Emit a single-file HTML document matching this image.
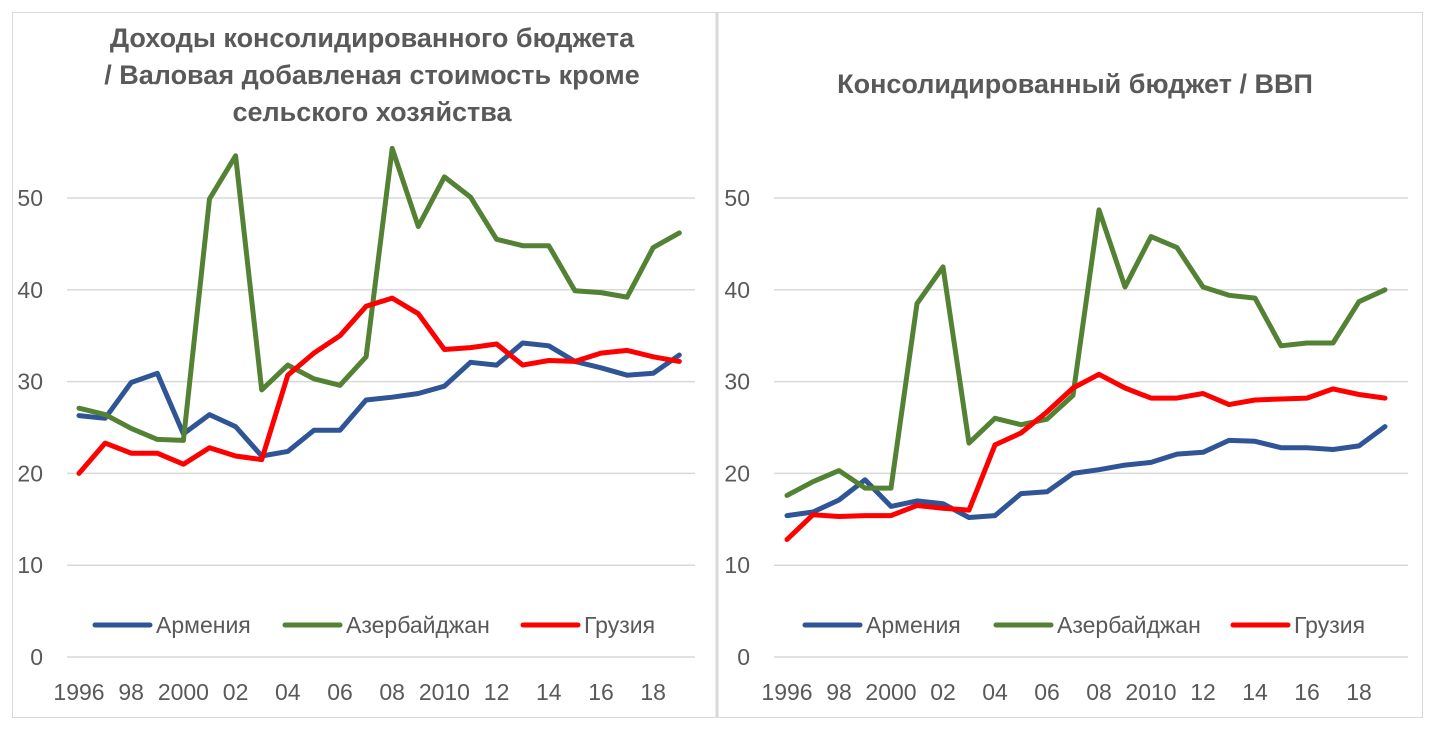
<!DOCTYPE html>
<html><head><meta charset="utf-8"><style>
html,body{margin:0;padding:0;background:#fff;}
svg{display:block;font-family:"Liberation Sans","DejaVu Sans",sans-serif;}
</style></head><body>
<svg id="s" width="1435" height="731" viewBox="0 0 1435 731" xmlns="http://www.w3.org/2000/svg">
<rect x="0" y="0" width="1435" height="731" fill="#fff"/>
<rect x="12.5" y="12.5" width="1410" height="705" fill="none" stroke="#d9d9d9"/>
<line x1="717" y1="12" x2="717" y2="718" stroke="#d9d9d9" stroke-width="3"/>
<g fill="#595959" font-weight="bold" font-size="27" text-anchor="middle">
<text x="372" y="47">Доходы консолидированного бюджета</text>
<text x="372" y="84">/ Валовая добавленая стоимость кроме</text>
<text x="372" y="121">сельского хозяйства</text>
<text x="1075" y="93">Консолидированный бюджет / ВВП</text>
</g>
<g id="g"></g>
</svg>
<script>
var L={a:[26.3,26,29.9,30.9,24.3,26.4,25.1,21.9,22.4,24.7,24.7,28,28.3,28.7,29.5,32.1,31.8,34.2,33.9,32.2,31.5,30.7,30.9,32.9],
z:[27.1,26.4,24.9,23.7,23.6,49.9,54.6,29.1,31.8,30.3,29.6,32.7,55.4,46.9,52.3,50.1,45.5,44.8,44.8,39.9,39.7,39.2,44.6,46.2],
g:[20,23.3,22.2,22.2,21,22.8,21.9,21.5,30.7,33.1,35,38.2,39.1,37.4,33.5,33.7,34.1,31.8,32.3,32.2,33.1,33.4,32.7,32.2]};
var R={a:[15.4,15.8,17.1,19.3,16.4,17,16.7,15.2,15.4,17.8,18,20,20.4,20.9,21.2,22.1,22.3,23.6,23.5,22.8,22.8,22.6,23,25.1],
z:[17.6,19.1,20.3,18.4,18.4,38.5,42.5,23.3,26,25.3,25.9,28.5,48.7,40.3,45.8,44.6,40.3,39.4,39.1,33.9,34.2,34.2,38.7,40],
g:[12.8,15.5,15.3,15.4,15.4,16.5,16.2,16,23.1,24.4,26.7,29.3,30.8,29.3,28.2,28.2,28.7,27.5,28,28.1,28.2,29.2,28.6,28.2]};
var C={a:"#2f5597",z:"#548235",g:"#ff0000"};
var h="";
function chart(D,x0,step,gx1,gx2,lab,leg){
 for(var v=0;v<=50;v+=10){var y=657-v*9.18;
  h+='<line x1="'+gx1+'" x2="'+gx2+'" y1="'+y+'" y2="'+y+'" stroke="#d9d9d9" stroke-width="1.5"/>';
  h+='<text x="'+lab+'" y="'+(y+8)+'" text-anchor="end" font-size="23" fill="#595959">'+v+'</text>';}
 var xl=["1996","98","2000","02","04","06","08","2010","12","14","16","18"];
 for(var i=0;i<12;i++){h+='<text x="'+(x0+i*2*step)+'" y="700" text-anchor="middle" font-size="23" fill="#595959">'+xl[i]+'</text>';}
 ["a","z","g"].forEach(function(k){var p=D[k].map(function(v,i){return (x0+i*step).toFixed(1)+","+(657-v*9.18).toFixed(1);}).join(" ");
  h+='<polyline points="'+p+'" fill="none" stroke="'+C[k]+'" stroke-width="5" stroke-linejoin="round" stroke-linecap="round"/>';});
 var nm={a:"Армения",z:"Азербайджан",g:"Грузия"};
 ["a","z","g"].forEach(function(k,i){var lx=leg[i];
  h+='<line x1="'+lx+'" x2="'+(lx+55)+'" y1="625" y2="625" stroke="'+C[k]+'" stroke-width="5" stroke-linecap="round"/>';
  h+='<text x="'+(lx+61)+'" y="633" font-size="23" fill="#595959">'+nm[k]+'</text>';});
}
chart(L,79,26.1,67,695,43,[95,285,523]);
chart(R,787,26.0,774,1408,750,[805,996,1233]);
document.getElementById("g").innerHTML=h;
</script>
</body></html>
